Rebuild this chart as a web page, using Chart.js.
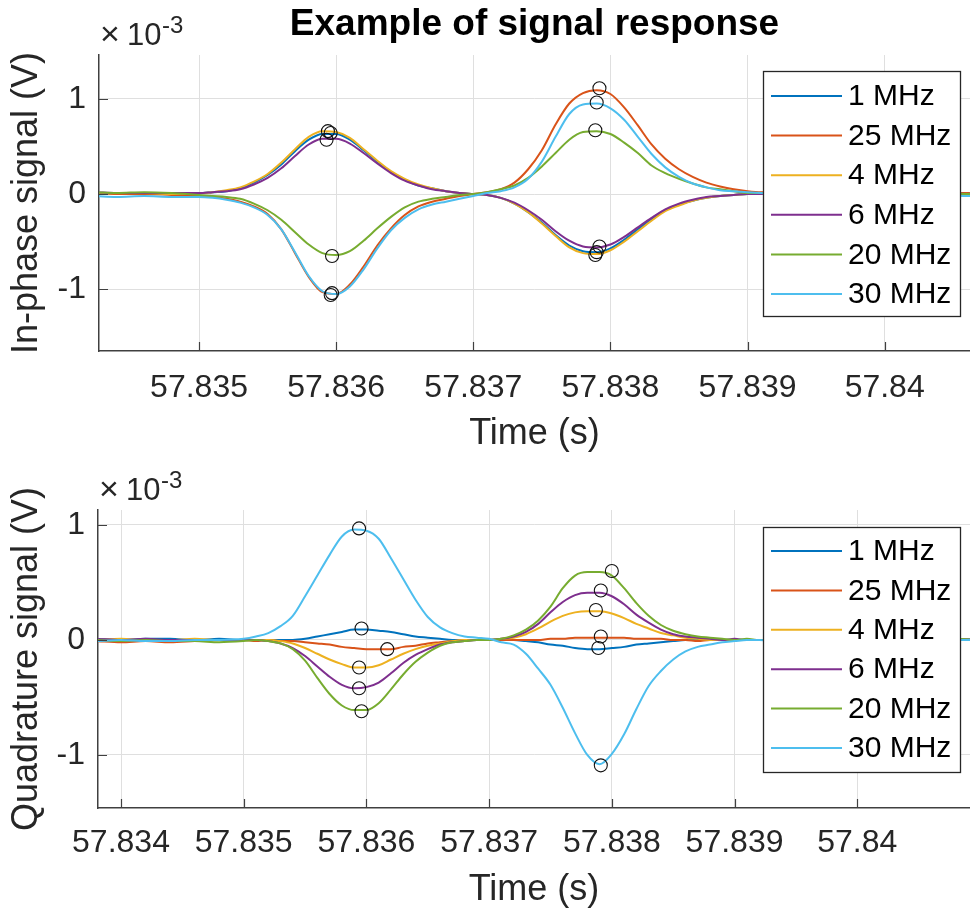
<!DOCTYPE html>
<html><head><meta charset="utf-8">
<script src="https://cdn.jsdelivr.net/npm/chart.js@4.4.1/dist/chart.umd.min.js"></script>
<style>
html,body{margin:0;padding:0;background:#fff;overflow:hidden;width:970px;height:913px}
.box{position:absolute;left:0;width:970px}
</style></head><body>
<div class="box" style="top:0;height:460px"><canvas id="c1" width="970" height="460"></canvas></div>
<div class="box" style="top:460px;height:453px"><canvas id="c2" width="970" height="453"></canvas></div>
<script>
// ---------- data ----------
const time = [57.8338,57.8340,57.8342,57.8344,57.8346,57.8348,
 57.8350,57.8351,57.8352,57.8353,57.8354,57.8355,57.8356,57.8357,57.8358,57.8359,
 57.8360,57.8361,57.8362,57.8363,57.8364,57.8365,57.8366,57.8367,57.8368,57.8369,
 57.8370,57.8371,57.8372,57.8373,57.8374,57.8375,57.8376,57.8377,57.8378,57.8379,
 57.8380,57.8381,57.8382,57.8383,57.8384,57.8385,57.8386,57.8387,57.8388,57.8389,
 57.8390,57.8391,57.8392,57.8394,57.8396,57.8398,57.8400,57.8402,57.8404,57.8406,57.8408,57.8410];

const seriesLabels = ['1 MHz','25 MHz','4 MHz','6 MHz','20 MHz','30 MHz'];
const seriesColors = ['#0072BD','#D95319','#EDB120','#7E2F8E','#77AC30','#4DBEEE'];

// In-phase signal (x10^-3 V)
const inphase1MHz = [0.01,0.00,0.01,0.01,0.00,0.01,
 0.01,0.02,0.03,0.06,0.12,0.20,0.31,0.45,0.57,0.63,0.63,0.57,0.46,0.34,0.23,0.15,0.09,0.06,0.03,0.01,0.00,
 -0.01,-0.04,-0.10,-0.19,-0.30,-0.43,-0.54,-0.60,-0.61,-0.57,-0.48,-0.37,-0.26,-0.17,-0.11,-0.07,-0.04,-0.02,-0.01,0.00,0.00,0.01,
 0.00,0.01,0.00,0.01,0.00,0.00,0.01,0.00,0.01];
const inphase25MHz = [0.01,0.00,0.01,0.00,0.00,-0.01,
 -0.02,-0.03,-0.05,-0.08,-0.13,-0.21,-0.37,-0.62,-0.87,-1.03,-1.05,-0.95,-0.76,-0.54,-0.36,-0.22,-0.13,-0.08,-0.05,-0.02,0.00,
 0.02,0.05,0.12,0.26,0.46,0.73,0.95,1.06,1.09,1.05,0.91,0.72,0.52,0.37,0.26,0.18,0.12,0.08,0.05,0.03,0.02,0.02,
 0.01,0.01,0.00,0.01,0.00,0.00,0.01,0.00,0.00];
const inphase4MHz = [0.01,0.01,0.00,0.01,0.01,0.00,
 0.01,0.02,0.04,0.07,0.13,0.21,0.33,0.47,0.60,0.66,0.65,0.59,0.47,0.35,0.24,0.16,0.10,0.06,0.03,0.01,0.00,
 -0.01,-0.04,-0.10,-0.19,-0.31,-0.44,-0.56,-0.62,-0.63,-0.59,-0.50,-0.39,-0.28,-0.18,-0.12,-0.07,-0.04,-0.02,-0.01,0.00,0.00,0.00,
 0.00,0.01,0.00,0.00,0.01,0.00,0.00,0.01,0.00];
const inphase6MHz = [0.01,0.01,0.02,0.01,0.01,0.01,
 0.01,0.02,0.03,0.05,0.10,0.17,0.27,0.40,0.52,0.58,0.58,0.53,0.43,0.32,0.22,0.14,0.09,0.05,0.03,0.01,0.00,
 -0.01,-0.04,-0.09,-0.17,-0.27,-0.39,-0.49,-0.55,-0.56,-0.53,-0.45,-0.35,-0.25,-0.16,-0.10,-0.06,-0.03,-0.02,-0.01,0.00,0.00,0.00,
 0.01,0.00,0.01,0.00,0.00,0.01,0.00,0.00,0.01];
const inphase20MHz = [0.02,0.01,0.02,0.01,0.02,0.01,
 -0.01,-0.02,-0.03,-0.05,-0.10,-0.17,-0.27,-0.40,-0.53,-0.62,-0.64,-0.60,-0.49,-0.36,-0.24,-0.14,-0.08,-0.05,-0.03,-0.01,0.00,
 0.02,0.05,0.09,0.17,0.29,0.43,0.57,0.65,0.66,0.63,0.54,0.43,0.30,0.22,0.16,0.11,0.07,0.05,0.03,0.01,0.01,0.00,
 0.00,0.01,0.00,0.00,0.00,0.01,0.00,0.00,0.00];
const inphase30MHz = [-0.02,-0.03,-0.02,-0.03,-0.02,-0.03,
 -0.03,-0.04,-0.06,-0.09,-0.14,-0.22,-0.37,-0.61,-0.86,-1.02,-1.05,-0.97,-0.79,-0.57,-0.38,-0.25,-0.16,-0.11,-0.08,-0.05,-0.02,
 0.01,0.03,0.07,0.16,0.34,0.60,0.84,0.94,0.95,0.90,0.78,0.60,0.42,0.28,0.18,0.11,0.07,0.04,0.03,0.02,0.01,0.00,
 -0.01,-0.01,-0.02,-0.01,-0.02,-0.01,-0.02,-0.02,-0.01];

// Quadrature signal (x10^-3 V)
const quad1MHz = [0.01,0.00,0.01,0.01,0.00,0.01,
 0.00,0.00,0.00,0.00,0.00,0.01,0.03,0.05,0.07,0.09,0.09,0.08,0.07,0.05,0.03,0.02,0.01,0.00,0.00,0.00,0.00,
 0.00,0.00,-0.01,-0.02,-0.04,-0.05,-0.07,-0.08,-0.08,-0.07,-0.06,-0.04,-0.03,-0.02,-0.01,0.00,0.00,0.00,0.00,0.00,0.00,0.00,
 0.00,0.01,0.00,0.00,0.01,0.00,0.00,0.00,0.01];
const quad25MHz = [-0.01,-0.02,-0.01,-0.02,-0.01,0.00,
 0.00,-0.01,0.00,-0.01,-0.01,-0.02,-0.03,-0.04,-0.06,-0.07,-0.08,-0.08,-0.08,-0.06,-0.05,-0.03,-0.02,-0.01,0.00,0.00,0.00,
 0.00,0.00,0.00,0.00,0.01,0.01,0.02,0.02,0.02,0.02,0.02,0.01,0.01,0.01,0.00,0.00,-0.01,0.00,0.00,0.00,0.00,0.00,
 0.00,-0.01,0.00,0.00,-0.01,0.00,0.00,0.00,0.00];
const quad4MHz = [0.00,0.01,0.00,0.00,0.01,0.00,
 0.00,0.00,0.00,-0.01,-0.03,-0.07,-0.12,-0.17,-0.21,-0.24,-0.24,-0.22,-0.17,-0.12,-0.08,-0.05,-0.03,-0.01,0.00,0.00,0.00,
 0.01,0.02,0.05,0.10,0.16,0.21,0.24,0.25,0.25,0.23,0.19,0.14,0.10,0.06,0.04,0.02,0.01,0.00,0.00,0.00,0.00,0.00,
 0.00,0.00,0.01,0.00,0.00,0.00,0.01,0.00,0.00];
const quad6MHz = [0.01,0.00,0.01,0.00,0.00,0.00,
 0.00,0.00,-0.01,-0.03,-0.07,-0.14,-0.23,-0.32,-0.39,-0.42,-0.41,-0.37,-0.29,-0.20,-0.13,-0.08,-0.04,-0.02,-0.01,0.00,0.00,
 0.01,0.03,0.07,0.14,0.24,0.33,0.39,0.41,0.41,0.38,0.31,0.22,0.15,0.09,0.05,0.03,0.02,0.01,0.00,0.01,0.00,0.00,
 0.00,0.00,0.01,0.00,0.00,0.00,0.00,0.01,0.00];
const quad20MHz = [0.00,-0.01,0.00,-0.01,-0.01,-0.02,
 -0.01,0.00,-0.01,-0.03,-0.08,-0.18,-0.33,-0.47,-0.57,-0.61,-0.61,-0.55,-0.43,-0.30,-0.19,-0.11,-0.05,-0.02,-0.01,0.00,0.00,
 0.01,0.04,0.09,0.17,0.29,0.45,0.56,0.59,0.59,0.56,0.45,0.32,0.21,0.13,0.08,0.05,0.03,0.02,0.01,0.00,0.01,0.00,
 0.00,0.01,0.00,0.00,0.01,0.00,0.00,0.01,0.00];
const quad30MHz = [-0.01,0.00,-0.01,-0.01,0.00,0.00,
 0.01,0.03,0.06,0.12,0.21,0.38,0.56,0.74,0.90,0.96,0.95,0.88,0.71,0.53,0.35,0.20,0.11,0.06,0.03,0.02,0.01,
 -0.02,-0.04,-0.12,-0.25,-0.39,-0.59,-0.81,-1.00,-1.08,-0.99,-0.82,-0.60,-0.40,-0.27,-0.17,-0.10,-0.06,-0.04,-0.02,-0.01,0.00,0.00,
 -0.01,0.00,-0.01,0.00,-0.01,0.00,-0.01,0.00,0.00];

// peak markers (series order as seriesLabels)
const inphasePeakTimeA = [57.83596,57.83596,57.83594,57.83593,57.83597,57.83597];
const inphasePeakValA  = [0.64,-1.06,0.66,0.57,-0.65,-1.04];
const inphasePeakTimeB = [57.83790,57.83792,57.83789,57.83792,57.83789,57.83790];
const inphasePeakValB  = [-0.61,1.11,-0.64,-0.55,0.67,0.96];
const quadPeakTimeA = [57.83596,57.83617,57.83594,57.83594,57.83596,57.83594];
const quadPeakValA  = [0.10,-0.08,-0.24,-0.42,-0.62,0.97];
const quadPeakTimeB = [57.83789,57.83791,57.83787,57.83791,57.83800,57.83791];
const quadPeakValB  = [-0.07,0.03,0.26,0.43,0.60,-1.09];

const xTicksTop = [57.835,57.836,57.837,57.838,57.839,57.840];
const xTicksBottom = [57.834,57.835,57.836,57.837,57.838,57.839,57.840];
const yTicks = [-1,0,1];

// ---------- drawing ----------
const FONT = "'Liberation Sans', Arial, Helvetica, sans-serif";
const TXT = '#262626';

const decor = {
  id: 'decor',
  afterDraw(chart, args, o) {
    const {ctx, chartArea: ca, scales: {x, y}} = chart;
    ctx.save();
    // inward tick marks
    ctx.strokeStyle = '#404040'; ctx.lineWidth = 1.2;
    ctx.beginPath();
    x.ticks.forEach(t => { const px = Math.round(x.getPixelForValue(t.value)) + 0.5; ctx.moveTo(px, ca.bottom); ctx.lineTo(px, ca.bottom - o.tickLen); });
    y.ticks.forEach(t => { const py = Math.round(y.getPixelForValue(t.value)) + 0.5; ctx.moveTo(ca.left, py); ctx.lineTo(ca.left + o.tickLen, py); });
    ctx.stroke();
    // exponent label
    ctx.fillStyle = TXT; ctx.textBaseline = 'alphabetic'; ctx.textAlign = 'left';
    const bx = ca.left + 1, by = ca.top - 10;
    ctx.font = '34px ' + FONT; ctx.fillText('\u00d7', bx, by);
    ctx.font = '31px ' + FONT; ctx.fillText('10', bx + 27, by);
    ctx.font = '24px ' + FONT; ctx.fillText('-3', bx + 62, by - 12);
    // legend
    const L = o.legend;
    const lx = ca.right - L.offsetRight - L.width, ly = ca.top + L.offsetTop;
    ctx.fillStyle = '#fff'; ctx.fillRect(lx, ly, L.width, L.height);
    ctx.strokeStyle = '#262626'; ctx.lineWidth = 1.3;
    ctx.strokeRect(lx + 0.5, ly + 0.5, L.width, L.height);
    ctx.font = L.fontSize + 'px ' + FONT; ctx.textBaseline = 'middle';
    chart.data.datasets.filter(d => !d.isMarker).forEach((d, i) => {
      const ry = ly + L.firstRow + i * L.rowStep;
      ctx.strokeStyle = d.borderColor; ctx.lineWidth = 2;
      ctx.beginPath(); ctx.moveTo(lx + 8, ry); ctx.lineTo(lx + 79, ry); ctx.stroke();
      ctx.fillStyle = '#000'; ctx.fillText(d.label, lx + 85, ry + 1);
    });
    ctx.restore();
  }
};

function buildDatasets(seriesList, peaksT, peaksV) {
  const ds = seriesList.map((vals, i) => ({
    label: seriesLabels[i],
    data: time.map((t, k) => ({x: t, y: vals[k]})),
    borderColor: seriesColors[i], backgroundColor: seriesColors[i],
    borderWidth: 2, pointRadius: 0, cubicInterpolationMode: 'monotone',
    order: 6 - i
  }));
  const pts = [];
  peaksT.forEach((arr, j) => arr.forEach((t, i) => pts.push({x: t, y: peaksV[j][i]})));
  ds.push({
    label: 'peaks', isMarker: true, data: pts, showLine: false,
    pointRadius: 6.5, pointBorderColor: '#111', pointBackgroundColor: 'rgba(0,0,0,0)',
    pointBorderWidth: 1.1, order: 0
  });
  return ds;
}

function makeChart(id, cfg) {
  return new Chart(document.getElementById(id), {
    type: 'line',
    data: {datasets: buildDatasets(cfg.series, cfg.peaksT, cfg.peaksV)},
    plugins: [decor],
    options: {
      responsive: false, animation: false, events: [],
      layout: {autoPadding: false, padding: {top: cfg.padTop, left: 0, right: 0, bottom: 0}},
      plugins: {
        legend: {display: false}, tooltip: {enabled: false},
        title: cfg.title ? {display: true, text: cfg.title, color: '#000', fullSize: false,
          font: {family: FONT, size: 37, weight: 'bold'}, padding: {top: 3, bottom: 7.6}} : {display: false},
        decor: {tickLen: 9, legend: {offsetRight: 10, offsetTop: cfg.legTop, width: 197, height: 245,
          firstRow: cfg.legFirst, rowStep: cfg.legStep, fontSize: 30}}
      },
      scales: {
        x: {
          type: 'linear', min: cfg.xMin, max: cfg.xMax,
          afterBuildTicks: s => { s.ticks = cfg.xTicks.map(v => ({value: v})); },
          afterFit: s => { s.height = cfg.xAxisH; },
          grid: {color: '#dfdfdf', lineWidth: 1, drawTicks: false},
          border: {display: true, color: '#404040', width: 1.5},
          ticks: {autoSkip: false, maxRotation: 0, padding: cfg.xTickPad, color: TXT,
            font: {family: FONT, size: 32}, callback: v => String(+v.toFixed(3))},
          title: {display: true, text: 'Time (s)', color: TXT, font: {family: FONT, size: 36},
            padding: {top: 0, bottom: cfg.xTitlePad}}
        },
        y: {
          min: cfg.yMin, max: cfg.yMax,
          afterBuildTicks: s => { s.ticks = yTicks.map(v => ({value: v})); },
          afterFit: s => { s.width = cfg.yAxisW; },
          grid: {color: '#dfdfdf', lineWidth: 1, drawTicks: false},
          border: {display: true, color: '#404040', width: 1.5},
          ticks: {padding: 13, color: TXT, font: {family: FONT, size: 32}, callback: v => String(v)},
          title: {display: true, text: cfg.yTitle, color: TXT, font: {family: FONT, size: 36},
            padding: {top: 5, bottom: 0}}
        }
      }
    }
  });
}

makeChart('c1', {
  series: [inphase1MHz, inphase25MHz, inphase4MHz, inphase6MHz, inphase20MHz, inphase30MHz],
  peaksT: [inphasePeakTimeA, inphasePeakTimeB], peaksV: [inphasePeakValA, inphasePeakValB],
  title: 'Example of signal response', padTop: 0,
  xMin: 57.8342705, xMax: 57.8406223, xTicks: xTicksTop, xAxisH: 109, xTickPad: 18, xTitlePad: 4,
  yMin: -1.647, yMax: 1.459, yAxisW: 99, yTitle: 'In-phase signal (V)',
  legTop: 16, legFirst: 25, legStep: 39.6
});
makeChart('c2', {
  series: [quad1MHz, quad25MHz, quad4MHz, quad6MHz, quad20MHz, quad30MHz],
  peaksT: [quadPeakTimeA, quadPeakTimeB], peaksV: [quadPeakValA, quadPeakValB],
  title: null, padTop: 50,
  xMin: 57.8338125, xMax: 57.8409187, xTicks: xTicksBottom, xAxisH: 105, xTickPad: 16, xTitlePad: 1,
  yMin: -1.461, yMax: 1.13, yAxisW: 98, yTitle: 'Quadrature signal (V)',
  legTop: 17, legFirst: 24, legStep: 39.4
});
</script>
</body></html>
